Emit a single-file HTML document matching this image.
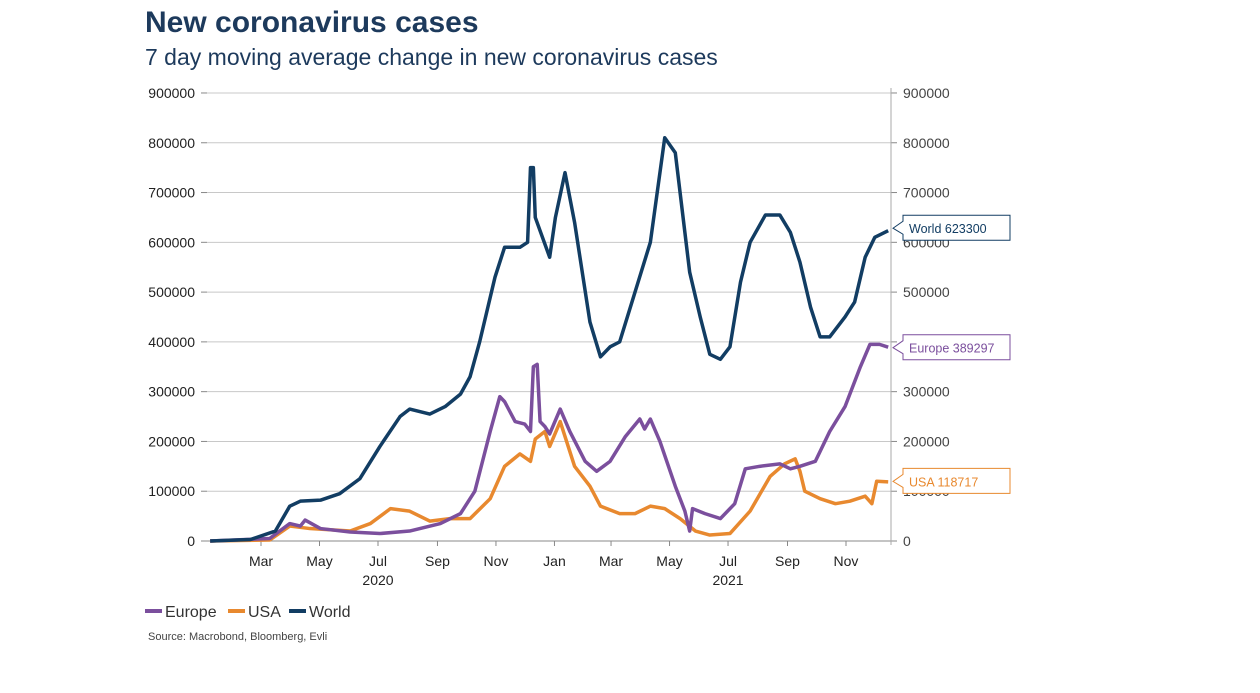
<!DOCTYPE html>
<html><head><meta charset="utf-8"><style>
body{margin:0;background:#fff;font-family:"Liberation Sans",Arial,sans-serif}
</style></head><body>
<svg id="c" width="1260" height="688" xmlns="http://www.w3.org/2000/svg" font-family="Liberation Sans, Arial, sans-serif">
<text x="145" y="32" font-size="30" font-weight="bold" fill="#1d3a5c">New coronavirus cases</text>
<text x="145" y="65" font-size="23" fill="#1d3a5c">7 day moving average change in new coronavirus cases</text>
<g id="grid"></g><g id="axes"></g><g id="series"></g><g id="callouts"></g>
<g>
<line x1="145" y1="611" x2="162" y2="611" stroke="#7b4f9d" stroke-width="4"/><text x="165" y="617" font-size="16" fill="#333">Europe</text>
<line x1="228" y1="611" x2="245" y2="611" stroke="#e8892f" stroke-width="4"/><text x="248" y="617" font-size="16" fill="#333">USA</text>
<line x1="289" y1="611" x2="306" y2="611" stroke="#123d63" stroke-width="4"/><text x="309" y="617" font-size="16" fill="#333">World</text>
</g>
<text x="148" y="640" font-size="11" fill="#444">Source: Macrobond, Bloomberg, Evli</text>
</svg>
<script>
const yTicks=[0,100000,200000,300000,400000,500000,600000,700000,800000,900000];
const monthLabels=["Mar","May","Jul","Sep","Nov","Jan","Mar","May","Jul","Sep","Nov"];
const monthDays=[60,121,182,244,305,366,425,486,547,609,670];
const yearLabels=["2020","2021"];
const yearDays=[182,547];
const worldDays=[7,49,75,90,101,122,142,163,184,205,215,236,252,268,278,288,304,314,330,338,341,344,346,361,367,377,387,403,414,424,434,450,466,481,492,502,507,518,528,539,549,560,570,586,601,612,622,633,643,653,669,679,690,700,714];
const worldVals=[0,3000,20000,70000,80000,82000,95000,125000,190000,250000,265000,255000,270000,295000,330000,400000,530000,590000,590000,600000,750000,750000,650000,570000,650000,740000,640000,440000,370000,390000,400000,500000,600000,810000,780000,620000,540000,450000,375000,365000,390000,520000,600000,655000,655000,620000,560000,470000,410000,410000,450000,480000,570000,610000,623300];
const europeDays=[7,69,90,101,106,122,153,184,215,247,268,283,299,309,314,325,335,341,344,348,351,356,361,372,382,398,410,424,440,455,460,466,476,492,502,507,510,523,539,554,565,580,601,612,622,638,653,669,685,695,705,714];
const europeVals=[0,5000,35000,30000,42000,25000,18000,15000,20000,35000,55000,100000,220000,290000,280000,240000,235000,220000,350000,355000,240000,230000,215000,265000,220000,160000,140000,160000,210000,245000,225000,245000,200000,110000,60000,20000,65000,55000,45000,75000,145000,150000,155000,145000,150000,160000,220000,270000,350000,395000,395000,389297];
const usaDays=[7,69,90,111,153,174,195,215,236,257,278,299,314,330,341,346,356,361,372,387,403,414,434,450,466,481,497,513,528,549,570,591,606,617,622,627,643,659,674,690,697,702,714];
const usaVals=[0,2000,30000,25000,20000,35000,65000,60000,40000,45000,45000,85000,150000,175000,160000,205000,220000,190000,240000,150000,110000,70000,55000,55000,70000,65000,45000,20000,12000,15000,60000,130000,155000,165000,140000,100000,85000,75000,80000,90000,75000,120000,118717];
const NS="http://www.w3.org/2000/svg";
const X=d=>261+(d-60)*0.959, Y=v=>541-v*0.0004978;
function mk(t,a,p){const e=document.createElementNS(NS,t);for(const k in a)e.setAttribute(k,a[k]);document.getElementById(p).appendChild(e);return e;}
yTicks.forEach(v=>{
 const g=mk('line',{x1:207,x2:891,y1:Y(v),y2:Y(v),stroke:v?'#c8c8c8':'#888','stroke-width':1},'grid');
 
 
 const l=mk('text',{x:195,y:Y(v)+5,'text-anchor':'end','font-size':14,fill:'#222'},'axes');l.textContent=v;
 
 
 const r=mk('text',{x:903,y:Y(v)+5,'font-size':14,fill:'#444'},'axes');r.textContent=v;
 
 
 mk('line',{x1:201,x2:207,y1:Y(v),y2:Y(v),stroke:'#888'},'axes');
 mk('line',{x1:891,x2:897,y1:Y(v),y2:Y(v),stroke:'#888'},'axes');
});
mk('line',{x1:891,x2:891,y1:88,y2:545,stroke:'#aaa'},'axes');
monthLabels.forEach((m,i)=>{
 mk('line',{x1:X(monthDays[i]),x2:X(monthDays[i]),y1:541,y2:546,stroke:'#888'},'axes');
 const t=mk('text',{x:X(monthDays[i]),y:566,'text-anchor':'middle','font-size':14,fill:'#222'},'axes');t.textContent=m;
 
 
});
yearLabels.forEach((y,i)=>{
 const t=mk('text',{x:X(yearDays[i]),y:585,'text-anchor':'middle','font-size':14,fill:'#222'},'axes');t.textContent=y;
 
 
});
function line(ds,vs,col,name){
 const p=mk('polyline',{points:ds.map((d,i)=>X(d)+','+Y(vs[i])).join(' '),fill:'none',stroke:col,'stroke-width':3.5,'stroke-linejoin':'round'},'series');
 
 
}
line(usaDays,usaVals,'#e8892f','usa-line');
line(europeDays,europeVals,'#7b4f9d','europe-line');
line(worldDays,worldVals,'#123d63','world-line');
function call(v,col,txt,name){
 const y=Y(v);
 const p=mk('path',{d:`M893 ${y} L903 ${y-7} L903 ${y-13} L1010 ${y-13} L1010 ${y+12} L903 ${y+12} L903 ${y+6} Z`,fill:'#fff',stroke:col,'stroke-width':1},'callouts');
 
 
 const t=mk('text',{x:909,y:y+5,'font-size':12.5,fill:col},'callouts');t.textContent=txt;
 
 
}
call(worldVals[worldVals.length-1]+5000,'#123d63','World 623300','world-callout');
call(europeVals[europeVals.length-1]-1000,'#7b4f9d','Europe 389297','europe-callout');
call(usaVals[usaVals.length-1]+1000,'#e8892f','USA 118717','usa-callout');
</script>
</body></html>
